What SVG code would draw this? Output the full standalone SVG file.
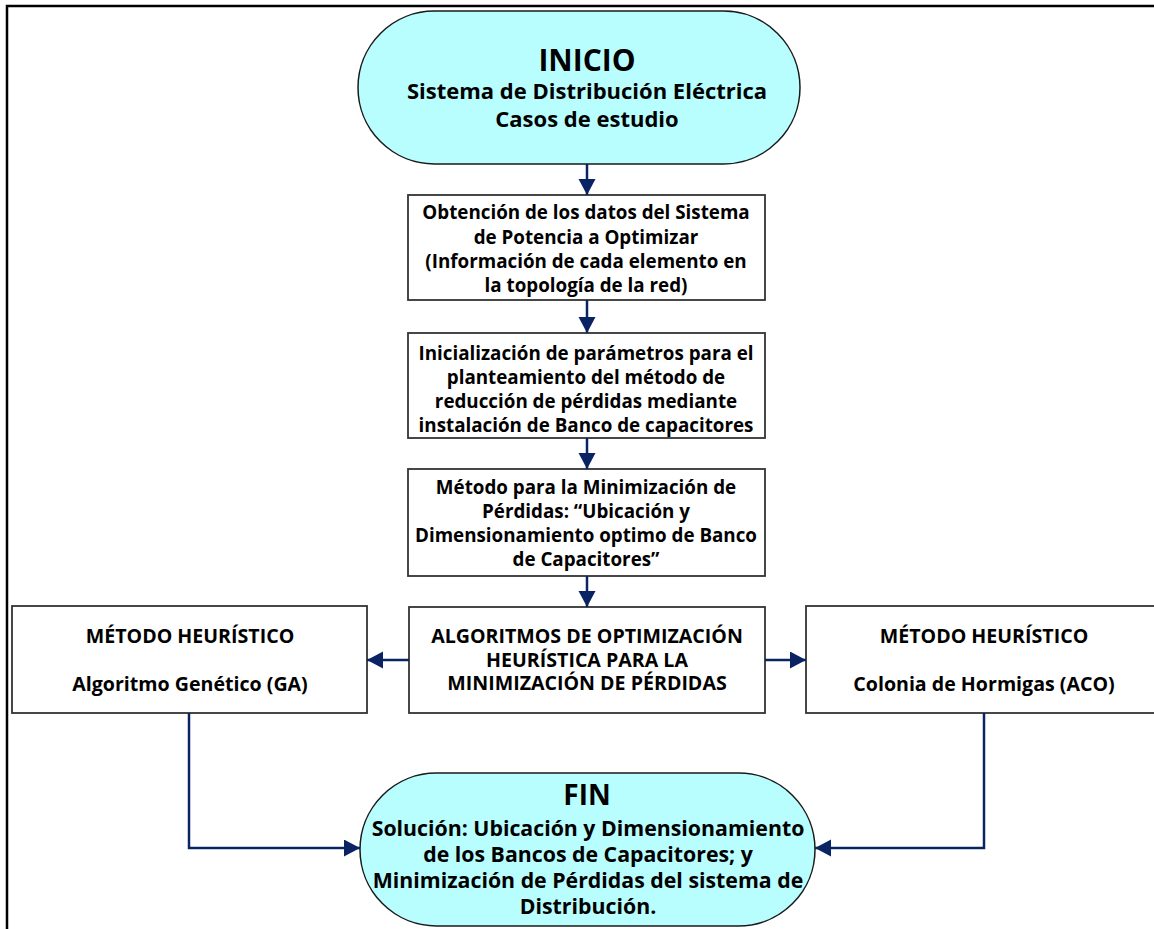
<svg xmlns="http://www.w3.org/2000/svg" width="1154" height="929" viewBox="0 0 1154 929">
<style>
  .frame{fill:none;stroke:#000;stroke-width:2.5}
  .term{fill:#b8fefe;stroke:#1a1a1a;stroke-width:1.5}
  .box{fill:#fff;stroke:#333;stroke-width:1.8}
  text{font-family:"Open Sans","Noto Sans","DejaVu Sans",sans-serif;font-weight:700;fill:#000;text-anchor:middle}
  .t{font-size:18.8px}
  .u{font-size:19.6px}
  .big{font-size:30px}
  .fbig{font-size:28px}
  .sub{font-size:22px}
  .fin{font-size:21.3px}
  .conn{fill:none;stroke:#0a2463;stroke-width:2.5}
</style>
<defs>
  <marker id="ah" markerUnits="userSpaceOnUse" markerWidth="18" markerHeight="18" refX="16" refY="8.5" orient="auto">
    <path d="M0,0 L16,8.5 L0,17 Z" fill="#0a2463"/>
  </marker>
</defs>
<rect class="frame" x="7" y="6" width="1170" height="950"/>

<g id="inicio">
  <rect class="term" x="358" y="11" width="442" height="153" rx="76.5" ry="76.5"/>
  <text class="big" x="587" y="71">INICIO</text>
  <text class="sub" x="587" y="99">Sistema de Distribución Eléctrica</text>
  <text class="sub" x="587" y="127">Casos de estudio</text>
</g>

<g id="datos">
  <rect class="box" x="408" y="195" width="357" height="105"/>
  <text class="t" x="586" y="219">Obtención de los datos del Sistema</text>
  <text class="t" x="586" y="244">de Potencia a Optimizar</text>
  <text class="t" x="586" y="268">(Información de cada elemento en</text>
  <text class="t" x="586" y="292">la topología de la red)</text>
</g>

<g id="inicializacion">
  <rect class="box" x="408" y="333" width="357" height="105"/>
  <text class="t" x="586" y="360">Inicialización de parámetros para el</text>
  <text class="t" x="586" y="384">planteamiento del método de</text>
  <text class="t" x="586" y="408">reducción de pérdidas mediante</text>
  <text class="t" x="586" y="432">instalación de Banco de capacitores</text>
</g>

<g id="metodo">
  <rect class="box" x="408" y="469" width="357" height="107"/>
  <text class="t" x="586" y="494">Método para la Minimización de</text>
  <text class="t" x="586" y="518">Pérdidas: “Ubicación y</text>
  <text class="t" x="586" y="542">Dimensionamiento optimo de Banco</text>
  <text class="t" x="586" y="566">de Capacitores”</text>
</g>

<g id="algoritmos">
  <rect class="box" x="409" y="607" width="356" height="106"/>
  <text class="u" x="587" y="643">ALGORITMOS DE OPTIMIZACIÓN</text>
  <text class="u" x="587" y="667">HEURÍSTICA PARA LA</text>
  <text class="u" x="587" y="690">MINIMIZACIÓN DE PÉRDIDAS</text>
</g>

<g id="ga">
  <rect class="box" x="12" y="606" width="355" height="107"/>
  <text class="u" x="190" y="643">MÉTODO HEURÍSTICO</text>
  <text class="u" x="190" y="691">Algoritmo Genético (GA)</text>
</g>

<g id="aco">
  <rect class="box" x="806" y="606" width="356" height="107"/>
  <text class="u" x="984" y="643">MÉTODO HEURÍSTICO</text>
  <text class="u" x="984" y="691">Colonia de Hormigas (ACO)</text>
</g>

<g id="fin">
  <rect class="term" x="360" y="773" width="455" height="153" rx="76.5" ry="76.5"/>
  <text class="fbig" x="587" y="805">FIN</text>
  <text class="fin" x="588" y="836">Solución: Ubicación y Dimensionamiento</text>
  <text class="fin" x="588" y="862">de los Bancos de Capacitores; y</text>
  <text class="fin" x="588" y="888">Minimización de Pérdidas del sistema de</text>
  <text class="fin" x="588" y="914">Distribución.</text>
</g>

<g id="connectors">
  <path class="conn" d="M587,164 V195" marker-end="url(#ah)"/>
  <path class="conn" d="M587,300 V333" marker-end="url(#ah)"/>
  <path class="conn" d="M587,438 V469" marker-end="url(#ah)"/>
  <path class="conn" d="M587,576 V607" marker-end="url(#ah)"/>
  <path class="conn" d="M409,660 H367" marker-end="url(#ah)"/>
  <path class="conn" d="M765,660 H806" marker-end="url(#ah)"/>
  <path class="conn" d="M189,713 V848 H360" marker-end="url(#ah)"/>
  <path class="conn" d="M984,713 V848 H815" marker-end="url(#ah)"/>
</g>
</svg>
